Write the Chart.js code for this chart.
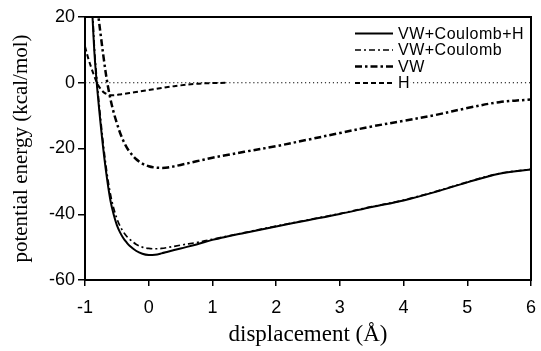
<!DOCTYPE html>
<html>
<head>
<meta charset="utf-8">
<script src="https://cdn.jsdelivr.net/npm/chart.js@4/dist/chart.umd.min.js"></script>
<style>
	html, body { margin: 0; padding: 0; background: #fff; }
</style>
</head>
<body>
<canvas id="energy" width="541" height="351"></canvas>
<script>
// Displacement (Å) shared by all curves.
var displacement = [-1, -0.95, -0.9, -0.85, -0.8, -0.75, -0.7, -0.65, -0.6, -0.55, -0.5, -0.45, -0.4, -0.35, -0.3, -0.2, -0.1, 0, 0.1, 0.2, 0.3, 0.5, 0.75, 1, 1.25, 1.5, 2, 2.5, 3, 3.5, 4, 4.5, 5, 5.5, 6];

// Potential energy (kcal/mol).
var vwCoulombH = [null, null, 27, 8.5, -3.5, -13.5, -22.3, -29.8, -35.9, -40.1, -43.3, -45.5, -47.2, -48.5, -49.6, -51.1, -52, -52.4, -52.3, -51.9, -51.4, -50.4, -49.2, -47.8, -46.7, -45.7, -43.7, -41.8, -39.9, -37.8, -35.8, -33.2, -30.3, -27.7, -26.4];
var vwCoulomb = [null, null, 30, 10, -2, -12, -20.8, -28.2, -34, -38.2, -41.3, -43.6, -45.3, -46.6, -47.6, -49.1, -50, -50.4, -50.5, -50.4, -50.1, -49.4, -48.6, -47.6, -46.6, -45.6, -43.6, -41.7, -39.8, -37.7, -35.7, -33.1, -30.2, -27.6, -26.3];
var vw = [null, null, null, 32, 22, 14, 6.5, 0, -5, -9, -12.3, -15.2, -17.6, -19.5, -21, -23.2, -24.6, -25.4, -25.8, -25.9, -25.8, -25, -23.9, -22.8, -21.9, -21, -19.3, -17.3, -15.3, -13.3, -11.6, -9.8, -7.7, -5.9, -5.1];
var hBond = [11, 7.5, 4.5, 1.8, -0.5, -2, -3, -3.5, -3.8, -3.8, -3.7, -3.55, -3.4, -3.25, -3.1, -2.8, -2.5, -2.2, -1.9, -1.6, -1.3, -0.8, -0.3, -0.1, 0, null, null, null, null, null, null, null, null, null, null];

var seriesLabels = ["VW+Coulomb+H", "VW+Coulomb", "VW", "H"];
var xTicks = [-1, 0, 1, 2, 3, 4, 5, 6];
var yTicks = [-60, -40, -20, 0, 20];

function toPoints(values) {
	return displacement.map(function (x, i) {
		return { x: x, y: values[i] };
	});
}

var tickFont = { family: "'Liberation Sans', Arial, sans-serif", size: 18 };
var titleFont = { family: "'Liberation Serif', 'Times New Roman', serif", size: 21 };

// Frame around the plot and a legend inside its top right corner.
var frameLegend = {
	id: "frameLegend",
	afterDatasetsDraw: function (chart) {
		var ctx = chart.ctx;
		var a = chart.chartArea;
		ctx.save();

		ctx.font = "16px 'Liberation Sans', Arial, sans-serif";
		ctx.letterSpacing = "0.5px";
		ctx.textBaseline = "middle";
		var x0 = a.right - 176;
		chart.data.datasets.forEach(function (ds) {
			if (!ds.label) return;
			var i = seriesLabels.indexOf(ds.label);
			var y = a.top + 16.5 + i * 16.5;
			var w = ctx.measureText(ds.label).width;
			ctx.fillStyle = "#fff";
			ctx.fillRect(x0 - 3, y - 7, 43 + w + 3, 14);
			ctx.strokeStyle = "#000";
			ctx.lineWidth = ds.borderWidth;
			ctx.setLineDash(ds.borderDash || []);
			ctx.beginPath();
			ctx.moveTo(x0, y);
			ctx.lineTo(x0 + 38, y);
			ctx.stroke();
			ctx.setLineDash([]);
			ctx.fillStyle = "#000";
			ctx.fillText(ds.label, x0 + 43, y + 1);
		});

		ctx.strokeStyle = "#000";
		ctx.lineWidth = 2;
		ctx.strokeRect(a.left, a.top, a.right - a.left, a.bottom - a.top);
		ctx.restore();
	},
};

var config = {
	type: "line",
	data: {
		datasets: [
			{
				data: [{ x: -1, y: 0 }, { x: 6, y: 0 }],
				borderColor: "#000",
				borderWidth: 1.2,
				borderDash: [1.2, 2.8],
			},
			{
				label: seriesLabels[0],
				data: toPoints(vwCoulombH),
				borderColor: "#000",
				borderWidth: 2,
			},
			{
				label: seriesLabels[1],
				data: toPoints(vwCoulomb),
				borderColor: "#000",
				borderWidth: 1.7,
				borderDash: [6, 3, 2, 3],
			},
			{
				label: seriesLabels[2],
				data: toPoints(vw),
				borderColor: "#000",
				borderWidth: 2.5,
				borderDash: [7, 3, 2.5, 3],
			},
			{
				label: seriesLabels[3],
				data: toPoints(hBond),
				borderColor: "#000",
				borderWidth: 2,
				borderDash: [5, 3],
			},
		],
	},
	plugins: [frameLegend],
	options: {
		responsive: false,
		animation: false,
		devicePixelRatio: 1,
		layout: { padding: { top: 17, right: 10, left: 0, bottom: 0 } },
		elements: {
			point: { radius: 0 },
			line: { tension: 0.35, fill: false },
		},
		plugins: {
			legend: { display: false },
			tooltip: { enabled: false },
		},
		scales: {
			x: {
				type: "linear",
				min: xTicks[0],
				max: xTicks[xTicks.length - 1],
				afterBuildTicks: function (s) {
					s.ticks = xTicks.map(function (v) { return { value: v }; });
				},
				afterFit: function (s) {
					s.height = 71;
					s.paddingLeft = 0;
					s.paddingRight = 0;
				},
				ticks: { color: "#000", font: tickFont, padding: 11, maxRotation: 0 },
				grid: { drawOnChartArea: false, tickLength: 6, color: "#000", lineWidth: 1.5 },
				border: { color: "#000", width: 2 },
				title: { display: true, text: "displacement (Å)", color: "#000", font: { family: titleFont.family, size: 23 }, padding: { top: 0, bottom: 2 } },
			},
			y: {
				type: "linear",
				min: yTicks[0],
				max: yTicks[yTicks.length - 1],
				afterBuildTicks: function (s) {
					s.ticks = yTicks.map(function (v) { return { value: v }; });
				},
				afterFit: function (s) { s.width = 85; },
				ticks: { color: "#000", font: tickFont, padding: 3 },
				grid: { drawOnChartArea: false, tickLength: 7, color: "#000", lineWidth: 1.5 },
				border: { color: "#000", width: 2 },
				title: { display: true, text: "potential energy (kcal/mol)", color: "#000", font: titleFont, padding: { top: 9, bottom: 0 } },
			},
		},
	},
};

window.energyChart = new Chart(document.getElementById("energy"), config);
</script>
</body>
</html>
